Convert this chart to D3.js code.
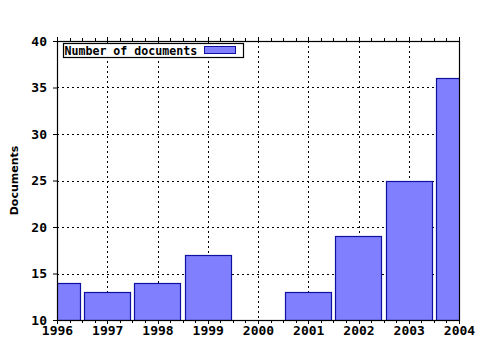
<!DOCTYPE html>
<html>
<head>
<meta charset="utf-8">
<script src="https://cdn.jsdelivr.net/npm/d3@7"></script>
<style>
  body { margin: 0; background: #fff; }
  text { font-family: "DejaVu Sans Mono", monospace; font-weight: bold; }
</style>
</head>
<body>
<div id="chart"></div>
<script>
// dados
const years = [1996, 1997, 1998, 1999, 2000, 2001, 2002, 2003, 2004];
const documents = [14, 13, 14, 17, 10, 13, 19, 25, 36];
const yTicks = [10, 15, 20, 25, 30, 35, 40];
const seriesName = "Number of documents";

const W = 480, H = 350;
const margin = { top: 41, right: 21, bottom: 30, left: 57 };
const width = W - margin.left - margin.right,
      height = H - margin.top - margin.bottom;

const svg = d3.select("#chart").append("svg")
    .attr("width", W).attr("height", H);

const g = svg.append("g")
    .attr("transform", `translate(${margin.left},${margin.top})`);

const x = d3.scaleLinear().domain([1996, 2004]).range([0, width]);
const y = d3.scaleLinear().domain([10, 40]).range([height, 0]);
const step = x(1997) - x(1996);
const barW = step * 0.92;

// clip para as barras nas bordas
svg.append("defs").append("clipPath").attr("id", "plot-clip")
    .append("rect").attr("width", width).attr("height", height + 1);

// grade pontilhada
g.append("g").selectAll("line").data(years.slice(1, -1)).join("line")
    .attr("x1", d => Math.round(x(d)) + 0.5).attr("x2", d => Math.round(x(d)) + 0.5)
    .attr("y1", 0).attr("y2", height)
    .attr("stroke", "#000").attr("stroke-dasharray", "2,3");

g.append("g").selectAll("line").data(yTicks.slice(1, -1)).join("line")
    .attr("x1", 0).attr("x2", width)
    .attr("y1", d => Math.round(y(d)) + 0.5).attr("y2", d => Math.round(y(d)) + 0.5)
    .attr("stroke", "#000").attr("stroke-dasharray", "2,3");

// barras
g.append("g").attr("clip-path", "url(#plot-clip)")
    .selectAll("rect").data(years).join("rect")
    .attr("x", d => Math.round(x(d) - barW / 2) + 0.5)
    .attr("width", Math.round(barW))
    .attr("y", (d, i) => Math.round(y(documents[i])) + 0.5)
    .attr("height", (d, i) => height - Math.round(y(documents[i])))
    .attr("fill", "#8080ff")
    .attr("stroke", "#1010a0")
    .attr("stroke-width", 1.2);

// borda do grafico
g.append("rect").attr("x", 0.5).attr("y", 0.5)
    .attr("width", width).attr("height", height)
    .attr("fill", "none").attr("stroke", "#000").attr("stroke-width", 1.2);

// ticks menores
const minor = d3.range(1996, 2004.01, 0.25);
g.append("g").selectAll("line").data(minor).join("line")
    .attr("x1", d => Math.round(x(d)) + 0.5).attr("x2", d => Math.round(x(d)) + 0.5)
    .attr("y1", height).attr("y2", d => height + (d % 1 === 0 ? 4 : 3))
    .attr("stroke", "#000");
g.append("g").selectAll("line").data(minor).join("line")
    .attr("x1", d => Math.round(x(d)) + 0.5).attr("x2", d => Math.round(x(d)) + 0.5)
    .attr("y1", 0).attr("y2", d => (d % 1 === 0 ? -4 : -3))
    .attr("stroke", "#000");

// eixo x
g.append("g").attr("transform", `translate(0,${height})`)
    .call(d3.axisBottom(x).tickValues(years).tickFormat(d3.format("d")).tickSize(0).tickPadding(6))
    .call(a => a.select(".domain").remove())
    .selectAll("text").style("font-size", "13px").attr("font-family", null);

// eixo y
g.append("g")
    .call(d3.axisLeft(y).tickValues(yTicks).tickSize(4).tickPadding(6))
    .call(a => a.select(".domain").remove())
    .selectAll("text").style("font-size", "13px").attr("font-family", null);

// label do eixo y
svg.append("text")
    .attr("transform", `translate(18,${margin.top + height / 2}) rotate(-90)`)
    .attr("text-anchor", "middle")
    .style("font-family", "'DejaVu Sans', sans-serif")
    .style("font-size", "11px")
    .text("Documents");

// legenda
const legend = g.append("g").attr("transform", "translate(6.5,2.5)");
legend.append("rect").attr("width", 180).attr("height", 14)
    .attr("fill", "#fff").attr("stroke", "#000").attr("stroke-width", 1.2);
legend.append("text").attr("x", 1).attr("y", 11)
    .style("font-size", "11.6px")
    .text(seriesName);
legend.append("rect").attr("x", 141).attr("y", 3).attr("width", 31).attr("height", 7)
    .attr("fill", "#8080ff").attr("stroke", "#1010a0");
</script>
</body>
</html>
